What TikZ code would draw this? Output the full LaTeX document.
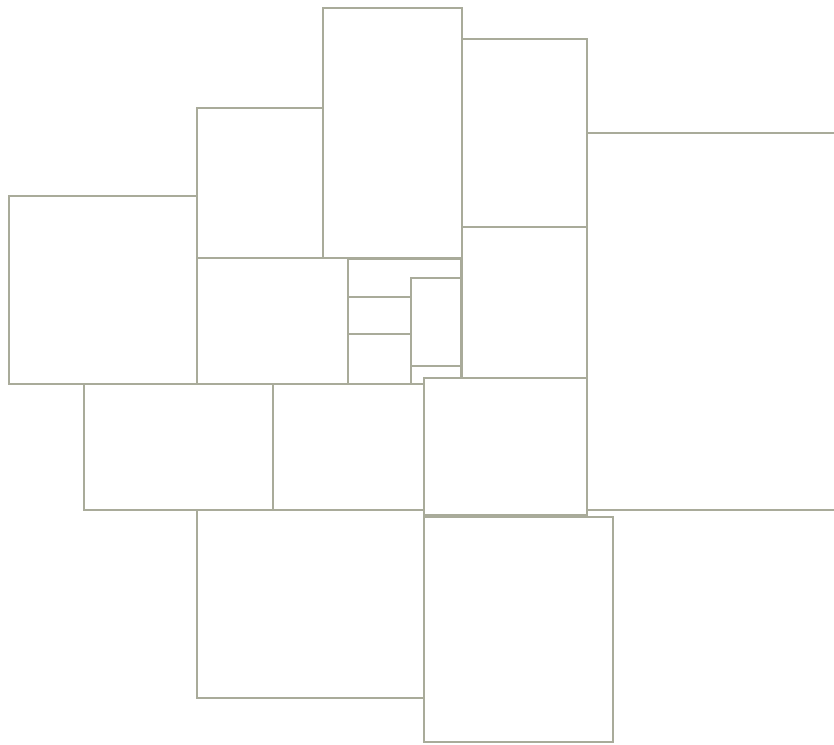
\documentclass[tikz,border=0pt]{standalone}
\usepackage{tikz}
\definecolor{linec}{HTML}{A9AB9A}
\tikzset{
  tile/.style={draw=linec, fill=white, line width=1.1pt, line join=miter},
}
\begin{document}
\begin{tikzpicture}[x=0.2mm, y=-0.2mm]
  \clip (0,0) rectangle (834,744);
  \fill[white] (0,0) rectangle (834,744);
  % upper band
  \draw[tile] (9,196) rectangle (197,384);
  \draw[tile] (197,108) rectangle (323,258);
  \draw[tile] (323,8) rectangle (462,258);
  \draw[tile] (462,39) rectangle (587,227);
  \draw[tile] (587,133) rectangle (880,510);
  \draw[tile] (462,227) rectangle (587,378);
  \draw[tile] (197,258) rectangle (348,384);
  % small cells in the middle
  \draw[tile] (348,259) rectangle (461,297);
  \draw[tile] (348,297) rectangle (411,334);
  \draw[tile] (348,334) rectangle (411,384);
  \draw[tile] (411,278) rectangle (461,366);
  \draw[tile] (411,366) rectangle (461,384);
  % lower band
  \draw[tile] (84,384) rectangle (273,510);
  \draw[tile] (273,384) rectangle (424,510);
  \draw[tile] (424,378) rectangle (587,515);
  \draw[tile] (197,510) rectangle (424,698);
  \draw[tile] (424,517) rectangle (613,742);
\end{tikzpicture}
\end{document}
